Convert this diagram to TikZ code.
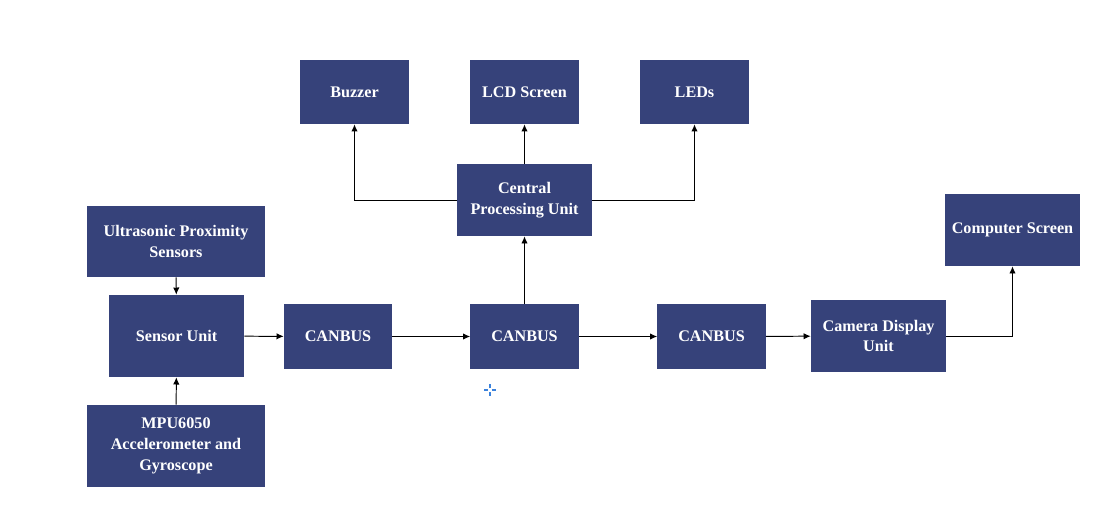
\documentclass[tikz,border=0pt]{standalone}
\usepackage{fontspec}
\setmainfont{Liberation Serif}
\usetikzlibrary{positioning,arrows.meta}
\definecolor{cnavy}{HTML}{36427A}
\definecolor{cmark}{HTML}{3B82DC}
\tikzset{
  unit/.style={fill=cnavy, text=white, align=center, font=\bfseries\fontsize{11.5}{14.8}\selectfont, inner sep=2pt},
  small/.style={unit, minimum width=2.7cm, minimum height=1.6cm},
  wide/.style={unit, minimum width=3.375cm, minimum height=1.8cm},
  big/.style={unit, minimum width=4.45cm},
  sig/.style={-{Latex[length=1.8mm,width=1.6mm]}, line width=0.7pt},
}
\begin{document}
\begin{tikzpicture}[x=0.025cm,y=-0.025cm]
    \useasboundingbox (0,0) rectangle (1111,532);
    % output devices
    \node[small] (buzzer) at (354.5,92) {Buzzer};
    \node[small] (lcd) at (524.5,92) {LCD Screen};
    \node[small] (leds) at (694.5,92) {LEDs};
    \node[wide] (cpu) at (524.5,200) {Central\\Processing Unit};
    % sensors
    \node[big, minimum height=1.775cm] (ultra) at (176,241.5) {Ultrasonic Proximity\\Sensors};
    \node[wide, minimum height=2.05cm] (sensor) at (176.5,336) {Sensor Unit};
    \node[big, minimum height=2.05cm] (mpu) at (176,446) {MPU6050\\Accelerometer and\\Gyroscope};
    % bus
    \node[small, minimum height=1.625cm] (can1) at (338,336.5) {CANBUS};
    \node[small, minimum height=1.625cm] (can2) at (524.5,336.5) {CANBUS};
    \node[small, minimum height=1.625cm] (can3) at (711.5,336.5) {CANBUS};
    \node[wide] (cam) at (878.5,336) {Camera Display\\Unit};
    \node[wide] (pc) at (1012.5,230) {Computer Screen};
    \draw[sig] (ultra) -- (sensor);
    \draw[sig] (mpu) -- (sensor);
    \draw[sig] (sensor) -- (can1);
    \draw[sig] (can1) -- (can2);
    \draw[sig] (can2) -- (can3);
    \draw[sig] (can3) -- (cam);
    \draw[sig] (can2) -- (cpu);
    \draw[sig] (cpu) -- (lcd);
    \draw[sig] (cpu.west) -| (buzzer.south);
    \draw[sig] (cpu.east) -| (leds.south);
    \draw[sig] (cam.east) -| (pc.south);
    % cursor mark
    \coordinate (mark) at (490,390);
    \draw[cmark, line width=0.8pt] ([xshift=-4]mark) -- ([xshift=-1.2]mark) ([xshift=1.2]mark) -- ([xshift=4]mark)
      ([yshift=-4]mark) -- ([yshift=-1.2]mark) ([yshift=1.2]mark) -- ([yshift=4]mark);
  \end{tikzpicture}
\end{document}
